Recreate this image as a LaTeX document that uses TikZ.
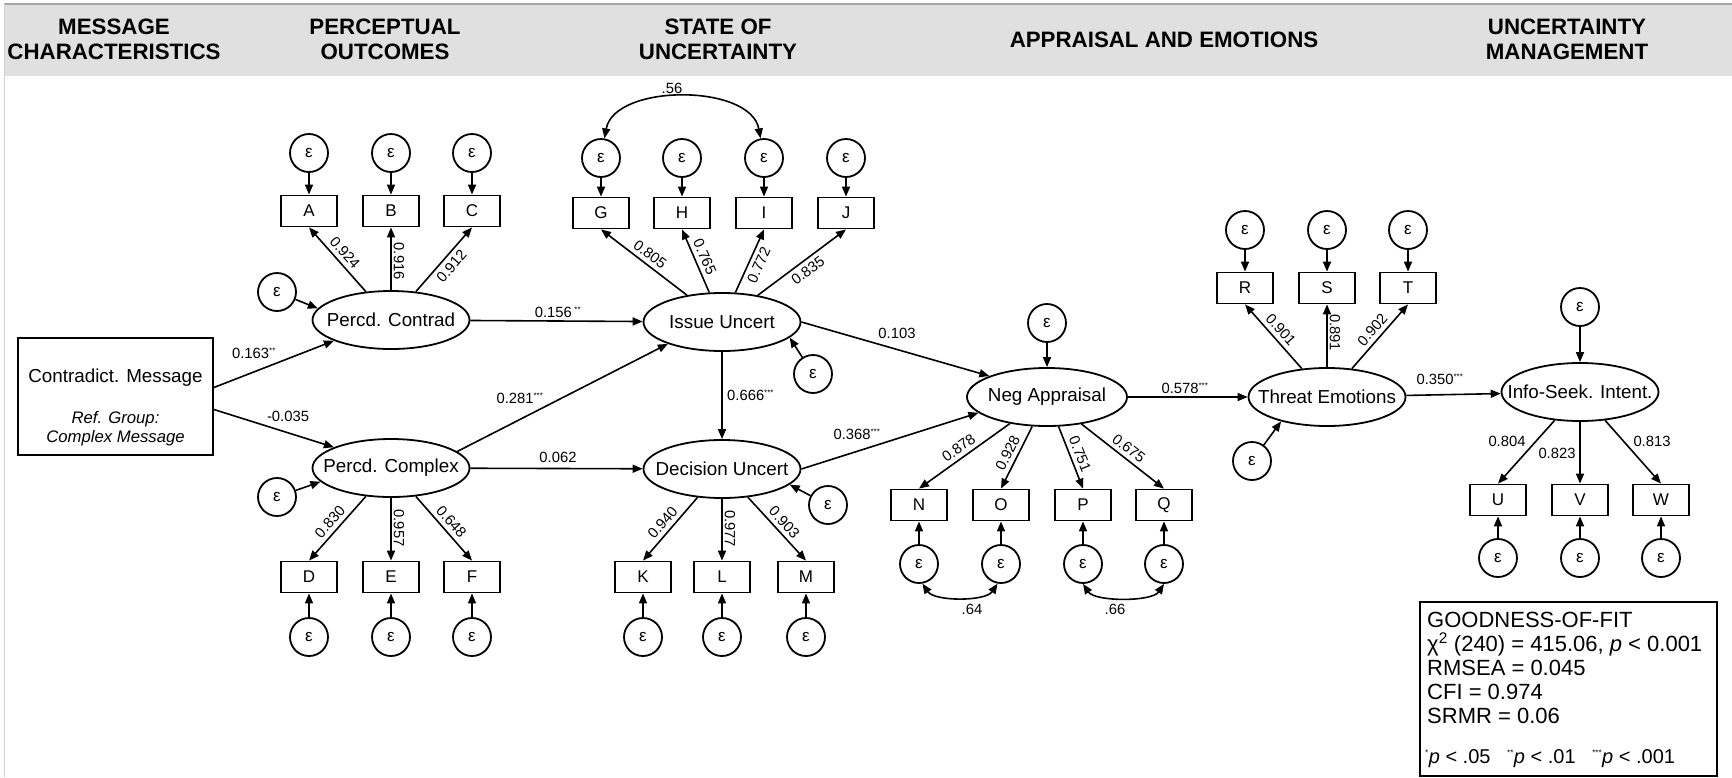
\documentclass[tikz,border=0pt]{standalone}
\usepackage{fontspec}
\setmainfont{Liberation Sans}
\usetikzlibrary{arrows.meta,shapes.geometric,calc}
\newcommand\myfs[2]{\fontsize{#1}{#2}\selectfont}
\newcommand\st[1]{\textsuperscript{\myfs{8}{8}#1}}
\begin{document}
\begin{tikzpicture}[x=1pt,y=-1pt,
  lat/.style={ellipse, draw, line width=1.8pt, minimum width=157pt, minimum height=58pt, inner xsep=-30pt, inner ysep=0pt, font=\myfs{18.8}{22}},
  obs/.style={rectangle, draw, line width=1.8pt, minimum width=56pt, minimum height=31pt, inner sep=0pt, font=\myfs{17}{20}},
  err/.style={circle, draw, line width=1.8pt, minimum size=38pt, inner sep=0pt, font=\myfs{17}{20}},
  arr/.style={line width=1.6pt, -{Triangle[length=10pt,width=8pt]}},
  dbl/.style={line width=1.6pt, {Triangle[length=10pt,width=8pt]}-{Triangle[length=10pt,width=8pt]}},
  lab/.style={font=\myfs{14.8}{17}, inner sep=2pt},
  hdr/.style={font=\bfseries\myfs{22.3}{25}, align=center},
  gof/.style={font=\myfs{22}{24}, inner sep=0pt, anchor=base west},
]
\useasboundingbox (0,0) rectangle (1732,777);
% header band
\fill[black!12] (4,4) rectangle (1732,76);
\draw[black!35, line width=1.5pt] (4,4) -- (1732,4);
\draw[black!18, line width=1pt] (4,4) -- (4,777);
\node[hdr] (h1) at (114,39) {MESSAGE\\CHARACTERISTICS};
\node[hdr] (h2) at (385,39) {PERCEPTUAL\\OUTCOMES};
\node[hdr] (h3) at (718,39) {STATE OF\\UNCERTAINTY};
\node[hdr] (h4) at (1164,40) {APPRAISAL AND EMOTIONS};
\node[hdr] (h5) at (1567,39) {UNCERTAINTY\\MANAGEMENT};

% message box
\node[draw, line width=1.8pt, minimum width=195pt, minimum height=117pt, inner sep=0pt] (msg) at (115.5,396.5) {};
\node[font=\myfs{18.8}{22}] (msg1) at (115.5,378) {Contradict. Message};
\node[font=\myfs{16.7}{19}\itshape, align=center] (msg2) at (115.5,428.5) {Ref. Group:\\Complex Message};

% latent variables
\node[lat] (pc) at (391,320) {Percd. Contrad};
\node[lat] (pcx) at (391,468) {Percd. Complex};
\node[lat] (iss) at (722,322) {Issue Uncert};
\node[lat] (dec) at (722,469) {Decision Uncert};
\node[lat, minimum width=160pt] (neg) at (1047,397) {Neg Appraisal};
\node[lat] (thr) at (1327,397) {Threat Emotions};
\node[lat] (info) at (1580,392) {Info-Seek. Intent.};

% observed
\node[obs] (A) at (309,211) {A};
\node[obs] (B) at (391,211) {B};
\node[obs] (C) at (472,211) {C};
\node[obs] (D) at (309,577) {D};
\node[obs] (E) at (391,577) {E};
\node[obs] (F) at (472,577) {F};
\node[obs] (G) at (601,213) {G};
\node[obs] (H) at (682,213) {H};
\node[obs] (I) at (764,213) {I};
\node[obs] (J) at (846,213) {J};
\node[obs] (K) at (643,577) {K};
\node[obs] (L) at (722,577) {L};
\node[obs] (M) at (806,577) {M};
\node[obs] (N) at (919,505) {N};
\node[obs] (O) at (1001,505) {O};
\node[obs] (P) at (1083,505) {P};
\node[obs] (Q) at (1164,505) {Q};
\node[obs] (R) at (1245,288) {R};
\node[obs] (S) at (1327,288) {S};
\node[obs] (T) at (1408,288) {T};
\node[obs] (U) at (1498,500) {U};
\node[obs] (V) at (1580,500) {V};
\node[obs] (W) at (1661,500) {W};

% errors
\node[err] (eA) at (309,153) {ε};
\node[err] (eB) at (391,153) {ε};
\node[err] (eC) at (472,153) {ε};
\node[err] (epc) at (277,292) {ε};
\node[err] (eD) at (309,637) {ε};
\node[err] (eE) at (391,637) {ε};
\node[err] (eF) at (472,637) {ε};
\node[err] (epcx) at (277,497) {ε};
\node[err] (eG) at (601,158) {ε};
\node[err] (eH) at (682,158) {ε};
\node[err] (eI) at (764,158) {ε};
\node[err] (eJ) at (846,158) {ε};
\node[err] (eiss) at (813,374) {ε};
\node[err] (eK) at (643,637) {ε};
\node[err] (eL) at (722,637) {ε};
\node[err] (eM) at (806,637) {ε};
\node[err] (edec) at (828,505) {ε};
\node[err] (eneg) at (1047,323) {ε};
\node[err] (eN) at (919,564) {ε};
\node[err] (eO) at (1001,564) {ε};
\node[err] (eP) at (1083,564) {ε};
\node[err] (eQ) at (1164,564) {ε};
\node[err] (eR) at (1245,230) {ε};
\node[err] (eS) at (1327,230) {ε};
\node[err] (eT) at (1408,230) {ε};
\node[err] (ethr) at (1252,461) {ε};
\node[err] (einfo) at (1580,307) {ε};
\node[err] (eU) at (1498,558) {ε};
\node[err] (eV) at (1580,558) {ε};
\node[err] (eW) at (1661,558) {ε};

% error arrows
\foreach \e/\t in {eA/A,eB/B,eC/C,eD/D,eE/E,eF/F,eG/G,eH/H,eI/I,eJ/J,eK/K,eL/L,eM/M,eN/N,eO/O,eP/P,eQ/Q,eR/R,eS/S,eT/T,eU/U,eV/V,eW/W,eneg/neg,einfo/info}
  \draw[arr] (\e) -- (\t);
\draw[arr] (epc) -- (pc.171);
\draw[arr] (epcx) -- (pcx.191);
\draw[arr] (eiss) -- (iss.-13);
\draw[arr] (edec) -- (dec.-13);
\draw[arr] (ethr) -- (thr.208);

% structural paths
\draw[arr] ($(msg.east)+(0,-9)$) -- (pc.200);
\draw[arr] ($(msg.east)+(0,13)$) -- (pcx.160);
\draw[arr] (pc) -- (iss);
\draw[arr] (pcx.14) -- (iss.202);
\draw[arr] (pcx) -- (dec);
\draw[arr] (iss) -- (dec);
\draw[arr] (iss.east) -- (neg.160);
\draw[arr] (dec.east) -- (neg.193);
\draw[arr] (neg) -- (thr);
\draw[arr] (thr) -- (info);

\node[lab] (s1) at (254,353) {0.163\st{**}};
\node[lab] (s2) at (288,416) {-0.035};
\node[lab] (s3) at (558,312) {0.156\,\st{**}};
\node[lab] (s4) at (520,398) {0.281\st{***}};
\node[lab] (s5) at (558,457) {0.062};
\node[lab, anchor=west] (s6) at (725,395) {0.666\st{***}};
\node[lab] (s7) at (897,333) {0.103};
\node[lab] (s8) at (857,434) {0.368\st{***}};
\node[lab] (s9) at (1185,388) {0.578\st{***}};
\node[lab] (s10) at (1440,379) {0.350\st{***}};

% loadings
\draw[arr] (pc) -- node[lab,sloped,above=2pt] (lA) {0.924} (A.south);
\draw[arr] (pc) -- node[lab,pos=.46,rotate=-90,anchor=south] (lB) {0.916} (B.south);
\draw[arr] (pc) -- node[lab,sloped,below=2pt] (lC) {0.912} (C.south);
\draw[arr] (pcx) -- node[lab,sloped,above=2pt] (lD) {0.830} (D.north);
\draw[arr] (pcx) -- node[lab,pos=.48,rotate=-90,anchor=south] (lE) {0.957} (E.north);
\draw[arr] (pcx) -- node[lab,sloped,above=2pt] (lF) {0.648} (F.north);
\draw[arr] (iss) -- node[lab,sloped,above=2pt] (lG) {0.805} (G.south);
\draw[arr] (iss) -- node[lab,sloped,above=2pt] (lH) {0.765} (H.south);
\draw[arr] (iss) -- node[lab,sloped,below=2pt] (lI) {0.772} (I.south);
\draw[arr] (iss) -- node[lab,sloped,below=2pt] (lJ) {0.835} (J.south);
\draw[arr] (dec) -- node[lab,sloped,above=2pt] (lK) {0.940} (K.north);
\draw[arr] (dec) -- node[lab,pos=.48,rotate=-90,anchor=south] (lL) {0.977} (L.north);
\draw[arr] (dec) -- node[lab,sloped,above=2pt] (lM) {0.903} (M.north);
\draw[arr] (neg) -- node[lab,sloped,above=2pt] (lN) {0.878} (N.north);
\draw[arr] (neg) -- node[lab,sloped,above=2pt] (lO) {0.928} (O.north);
\draw[arr] (neg) -- node[lab,sloped,above=2pt] (lP) {0.751} (P.north);
\draw[arr] (neg) -- node[lab,sloped,above=2pt] (lQ) {0.675} (Q.north);
\draw[arr] (thr) -- node[lab,sloped,above=2pt] (lR) {0.901} (R.south);
\draw[arr] (thr) -- node[lab,pos=.55,rotate=-90,anchor=south] (lS) {0.891} (S.south);
\draw[arr] (thr) -- node[lab,sloped,above=2pt] (lT) {0.902} (T.south);
\draw[arr] (info) -- (U.north);
\draw[arr] (info) -- (V.north);
\draw[arr] (info) -- (W.north);
\node[lab] (lU) at (1507,441) {0.804};
\node[lab] (lV) at (1557,453) {0.823};
\node[lab] (lW) at (1652,441) {0.813};

% correlations
\draw[dbl] (eG.80) .. controls +(10,-55) and +(-10,-55) .. (eI.100);
\node[lab] (c56) at (672,88) {.56};
\draw[dbl] (eN.-80) .. controls +(12,18) and +(-12,18) .. (eO.-100);
\node[lab] (c64) at (972,609) {.64};
\draw[dbl] (eP.-90) .. controls +(12,18) and +(-12,18) .. (eQ.-90);
\node[lab] (c66) at (1115,609) {.66};

% goodness of fit
\node[draw, line width=1.8pt, minimum width=297pt, minimum height=174pt, inner sep=0pt, anchor=north west] (gofbox) at (1419,601) {};
\node[gof] (g1) at (1427,627) {GOODNESS-OF-FIT};
\node[gof] (g2) at (1427,651) {χ\textsuperscript{2} (240) = 415.06, \textit{p} < 0.001};
\node[gof] (g3) at (1427,675) {RMSEA = 0.045};
\node[gof] (g4) at (1427,699) {CFI = 0.974};
\node[gof] (g5) at (1427,723) {SRMR = 0.06};
\node[gof, font=\myfs{20}{22}] (g6) at (1425,763) {\st{*}\textit{p} < .05 \ \ \st{**}\textit{p} < .01 \ \ \st{***}\textit{p} < .001};
\end{tikzpicture}
\end{document}
